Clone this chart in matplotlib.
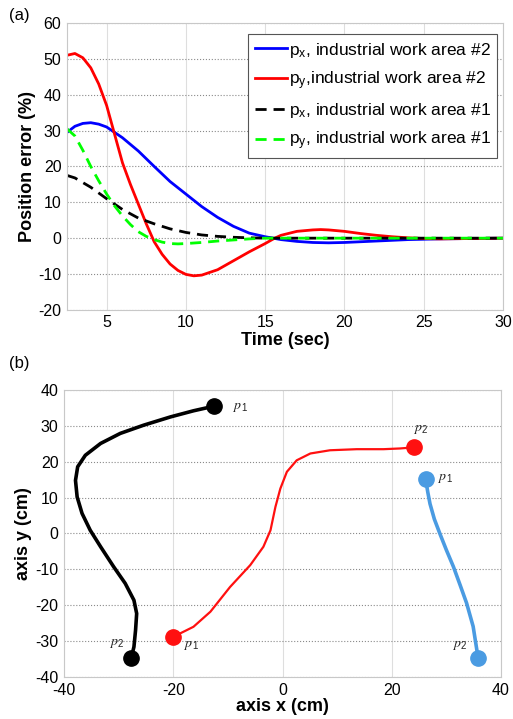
import matplotlib
matplotlib.use("Agg")
import matplotlib.pyplot as plt

plt.rcParams['font.family'] = ['Liberation Sans', 'DejaVu Sans']
plt.rcParams['mathtext.default'] = 'regular'
plt.rcParams['axes.unicode_minus'] = False

# ---- Panel (a) data ----
t_blue = [2.5, 3, 3.5, 4, 4.5, 5, 5.5, 6, 7, 8, 9, 10, 11, 12, 13, 14, 15, 16, 17, 18, 19, 20, 21, 22, 23, 24, 25, 26, 28, 30]
px2 = [29.5, 31.2, 32.0, 32.2, 31.8, 31.0, 29.5, 28.0, 24.3, 20.0, 15.8, 12.3, 8.8, 5.8, 3.3, 1.4, 0.4, -0.4, -0.9, -1.2, -1.3, -1.2, -1.0, -0.8, -0.6, -0.4, -0.3, -0.2, -0.1, 0.0]

t_red = [2.5, 3, 3.5, 4, 4.5, 5, 5.5, 6, 6.5, 7, 7.5, 8, 8.5, 9, 9.5, 10, 10.5, 11, 12, 13, 14, 15, 15.6, 16, 17, 18, 18.5, 19, 20, 21, 22, 23, 24, 25, 26, 28, 30]
py2 = [51.0, 51.5, 50.3, 47.5, 43.0, 37.0, 29.0, 21.0, 15.0, 9.5, 4.0, -1.0, -4.5, -7.2, -9.0, -10.1, -10.5, -10.3, -8.8, -6.3, -3.8, -1.5, 0.0, 0.8, 1.9, 2.3, 2.4, 2.3, 1.9, 1.3, 0.8, 0.4, 0.1, -0.1, -0.2, -0.1, 0.0]

t_black = [2.5, 3, 3.5, 4, 4.5, 5, 5.5, 6, 6.5, 7, 7.5, 8, 9, 10, 11, 12, 13, 14, 15, 20, 25, 30]
px1 = [17.5, 16.8, 15.5, 14.2, 12.6, 11.0, 9.5, 8.0, 6.8, 5.6, 4.8, 4.0, 2.6, 1.6, 0.9, 0.5, 0.25, 0.1, 0.0, 0.0, 0.0, 0.0]

t_green = [2.5, 3, 3.5, 4, 4.5, 5, 5.5, 6, 6.5, 7, 7.5, 8, 8.5, 9, 9.5, 10, 11, 12, 13, 14, 15, 20, 25, 30]
py1 = [30.5, 28.5, 24.5, 20.0, 16.0, 12.3, 9.0, 6.2, 3.8, 1.8, 0.5, -0.4, -1.1, -1.5, -1.6, -1.5, -1.2, -0.8, -0.5, -0.2, 0.0, 0.0, 0.0, 0.0]

labels_a = [r"p$_x$, industrial work area #2", r"p$_y$,industrial work area #2",
            r"p$_x$, industrial work area #1", r"p$_y$, industrial work area #1"]

# ---- Panel (b) data ----
black_x = [-12.5, -16.3, -20.5, -25.4, -29.7, -33.3, -36.1, -37.5, -37.9, -37.6, -36.7, -35.2, -33.3, -30.9, -28.8, -27.2, -26.7, -26.9, -27.2, -27.7]
black_y = [35.5, 34.2, 32.5, 30.2, 27.9, 25.1, 21.8, 18.6, 14.8, 10.2, 5.6, 0.9, -3.7, -9.3, -13.9, -18.6, -22.3, -26.9, -31.6, -34.7]

red_x = [-20.0, -16.3, -13.2, -9.6, -5.9, -3.5, -2.2, -1.3, -0.4, 0.8, 2.6, 5.1, 8.7, 13.6, 18.5, 21.5, 24.0]
red_y = [-28.8, -26.0, -21.8, -14.9, -8.8, -3.7, 0.9, 7.4, 12.5, 17.2, 20.4, 22.3, 23.2, 23.5, 23.5, 23.7, 24.0]

blue_x = [26.2, 26.6, 27.0, 27.8, 28.8, 30.0, 31.3, 32.5, 33.7, 34.9, 35.8]
blue_y = [15.1, 11.5, 8.3, 4.0, 0.0, -4.6, -9.3, -14.3, -19.4, -25.9, -34.6]

fig = plt.figure(figsize=(5.13, 7.19), dpi=100)

def style_axes(ax):
    for s in ax.spines.values():
        s.set_color('#c8c8c8')
        s.set_linewidth(0.8)
    ax.tick_params(length=0, labelsize=11.5, pad=4)
    ax.xaxis.grid(True, color='#dedede', linewidth=0.8, linestyle='-')
    ax.yaxis.grid(True, color='#8a8a8a', linewidth=0.8, linestyle=':')
    ax.set_axisbelow(True)

# Panel (a)
ax1 = fig.add_axes([0.1306, 0.569, 0.8499, 0.399])
style_axes(ax1)
ax1.plot(t_blue, px2, color='#0000ff', lw=2.0, label=labels_a[0])
ax1.plot(t_red, py2, color='#ff0000', lw=2.0, label=labels_a[1])
ax1.plot(t_black, px1, color='black', lw=2.0, ls=(0, (4, 2.5)), label=labels_a[2])
ax1.plot(t_green, py1, color='#00ff00', lw=2.0, ls=(0, (4, 2.5)), label=labels_a[3])
ax1.set_xlim(2.5, 30)
ax1.set_ylim(-20, 60)
ax1.set_xticks([5, 10, 15, 20, 25, 30])
ax1.set_yticks([-20, -10, 0, 10, 20, 30, 40, 50, 60])
ax1.set_xlabel('Time (sec)', fontsize=13, fontweight='bold', labelpad=1)
ax1.set_ylabel('Position error (%)', fontsize=13, fontweight='bold', labelpad=2)
leg = ax1.legend(loc='upper right', bbox_to_anchor=(0.987, 0.96), fontsize=12.5,
                 handlelength=1.9, handletextpad=0.1, borderpad=0.35, labelspacing=0.55,
                 fancybox=False, framealpha=1, edgecolor='#555555', borderaxespad=0)
leg.get_frame().set_linewidth(0.8)

# Panel (b)
ax2 = fig.add_axes([0.1248, 0.0584, 0.8518, 0.3992])
style_axes(ax2)
ax2.plot(black_x, black_y, color='black', lw=2.6, solid_capstyle='round', solid_joinstyle='round')
ax2.plot(red_x, red_y, color='#ff1010', lw=1.6, solid_joinstyle='round')
ax2.plot(blue_x, blue_y, color='#4a9be2', lw=2.6, solid_joinstyle='round')
ms = 11
ax2.plot([black_x[0], black_x[-1]], [black_y[0], black_y[-1]], 'o', color='black', ms=ms)
ax2.plot([red_x[0], red_x[-1]], [red_y[0], red_y[-1]], 'o', color='#ff1010', ms=ms)
ax2.plot([blue_x[0], blue_x[-1]], [blue_y[0], blue_y[-1]], 'o', color='#4a9be2', ms=ms)
ax2.set_xlim(-40, 40)
ax2.set_ylim(-40, 40)
ax2.set_xticks([-40, -20, 0, 20, 40])
ax2.set_yticks([-40, -30, -20, -10, 0, 10, 20, 30, 40])
ax2.set_xlabel('axis x (cm)', fontsize=13, fontweight='bold', labelpad=0)
ax2.set_ylabel('axis y (cm)', fontsize=13, fontweight='bold', labelpad=2)

pkw = dict(fontsize=10, color='#222222', math_fontfamily='stix', ha='left', va='center')
ax2.text(-9.2, 35.3, r'$\mathit{p}_{\,1}$', **pkw)
ax2.text(-31.8, -30.6, r'$\mathit{p}_2$', **pkw)
ax2.text(-18.2, -31.0, r'$\mathit{p}_{\,1}$', **pkw)
ax2.text(23.8, 29.2, r'$\mathit{p}_2$', **pkw)
ax2.text(28.2, 15.4, r'$\mathit{p}_{\,1}$', **pkw)
ax2.text(31.0, -31.0, r'$\mathit{p}_2$', **pkw)

fig.text(0.018, 0.978, '(a)', fontsize=12, va='center', ha='left')
fig.text(0.018, 0.494, '(b)', fontsize=12, va='center', ha='left')

fig.savefig('out.png', dpi=100)
